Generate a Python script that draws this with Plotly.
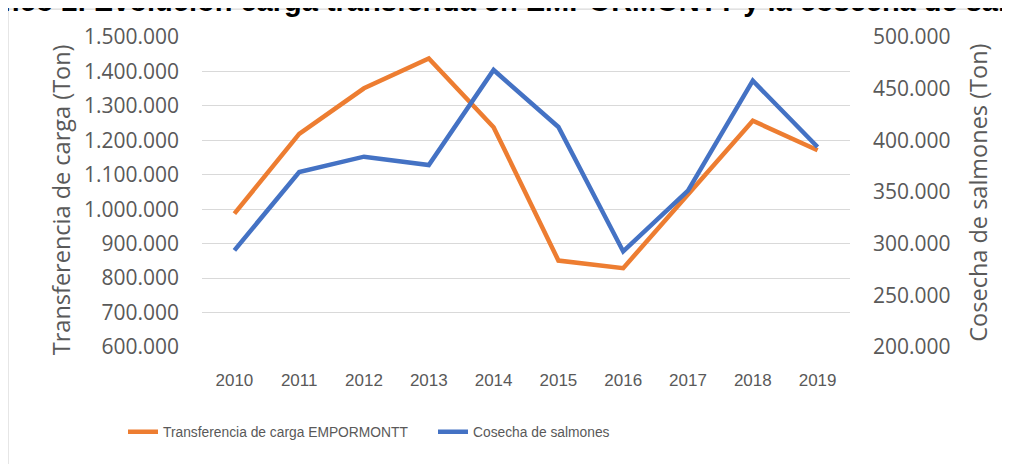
import plotly.graph_objects as go

years = ["2010", "2011", "2012", "2013", "2014", "2015", "2016", "2017", "2018", "2019"]
transferencia = [987000, 1219000, 1351000, 1438000, 1238000, 851000, 829000, 1043000, 1257000, 1171000]
cosecha = [293500, 369400, 384200, 376100, 468100, 412900, 292500, 351300, 457700, 393500]

name_transf = "Transferencia de carga EMPORMONTT"
name_cosecha = "Cosecha de salmones"
title_text = "Gráfico 2. Evolución carga transferida en EMPORMONTT y la cosecha de salmones"
y1_title = "Transferencia de carga (Ton)"
y2_title = "Cosecha de salmones (Ton)"

ORANGE = "#ED7D31"
BLUE = "#4472C4"
GREY = "#595959"
GRID = "#d9d9d9"

# page body has an 8px margin; the figure is sized so it fits the 1010x464 window
OFF = 8
W, H = 1010 - OFF, 464 - OFF
PLOT_L, PLOT_R, PLOT_T, PLOT_B = 202, 850, 37.3, 347.3   # target window pixels
ML = PLOT_L - OFF
MR = W - (PLOT_R - OFF)
MT = PLOT_T - OFF
MB = H - (PLOT_B - OFF)
PW = PLOT_R - PLOT_L
PH = PLOT_B - PLOT_T

def px_x(px):
    return (px - PLOT_L) / PW

def px_y(py):
    return (PLOT_B - py) / PH

fig = go.Figure()
fig.add_trace(go.Scatter(x=years, y=transferencia, name=name_transf, mode="lines",
                         line=dict(color=ORANGE, width=4.5), yaxis="y"))
fig.add_trace(go.Scatter(x=years, y=cosecha, name=name_cosecha, mode="lines",
                         line=dict(color=BLUE, width=4.5), yaxis="y2"))

arial = "Liberation Sans, Arial, sans-serif"
opens = "Open Sans, sans-serif"

fig.update_layout(
    width=W, height=H,
    margin=dict(l=ML, r=MR, t=MT, b=MB, pad=0, autoexpand=False),
    paper_bgcolor="white", plot_bgcolor="white",
    separators=",.",
    showlegend=True,
    legend=dict(orientation="h", x=px_x(123), xanchor="left", y=px_y(432), yanchor="middle",
                font=dict(family=arial, size=13.8, color=GREY),
                entrywidth=265, entrywidthmode="pixels", itemwidth=30,
                bgcolor="rgba(0,0,0,0)"),
    xaxis=dict(type="category", range=[-0.5, 9.5], showgrid=False, zeroline=False,
               showline=False, ticks="", ticklabelstandoff=21,
               tickfont=dict(family=arial, size=17, color=GREY)),
    yaxis=dict(range=[600000, 1500000], dtick=100000, tick0=600000, tickformat=",d",
               showgrid=True, gridcolor=GRID, gridwidth=1.3, zeroline=False, showline=False,
               ticks="", ticklabelstandoff=22,
               tickfont=dict(family=opens, size=21, color=GREY)),
    yaxis2=dict(range=[200000, 500000], dtick=50000, tick0=200000, tickformat=",d",
                overlaying="y", side="right", showgrid=False, zeroline=False, showline=False,
                ticks="", ticklabelstandoff=22,
                tickfont=dict(family=opens, size=21, color=GREY)),
    shapes=[dict(type="rect", xref="paper", yref="paper",
                 x0=px_x(8), x1=px_x(1100), y0=px_y(9.5), y1=px_y(520),
                 line=dict(color=GRID, width=1.3), fillcolor="rgba(0,0,0,0)", layer="below")],
    annotations=[
        dict(text="<b>" + title_text + "</b>", xref="paper", yref="paper",
             x=px_x(-50), xanchor="left", y=px_y(1.5), yanchor="middle",
             showarrow=False, font=dict(family="Liberation Sans, Arial", size=29, color="black")),
        dict(text=y1_title, xref="paper", yref="paper", textangle=-90,
             x=px_x(61), xanchor="center", y=px_y(200.5), yanchor="middle",
             showarrow=False, font=dict(family=opens, size=23.5, color=GREY)),
        dict(text=y2_title, xref="paper", yref="paper", textangle=-90,
             x=px_x(978), xanchor="center", y=px_y(193), yanchor="middle",
             showarrow=False, font=dict(family=opens, size=23.5, color=GREY)),
    ],
)

fig.write_html("out.html")
